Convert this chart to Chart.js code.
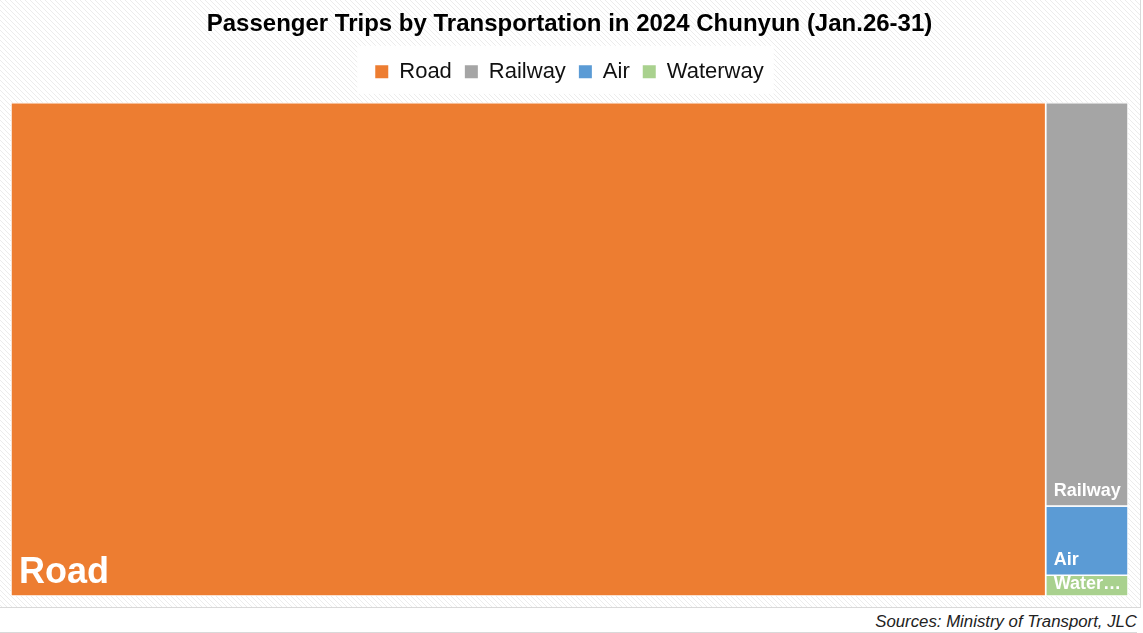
<!DOCTYPE html>
<html>
<head>
<meta charset="utf-8">
<script src="https://cdn.jsdelivr.net/npm/chart.js@4.4.1/dist/chart.umd.min.js"></script>
<style>
  body { margin: 0; background: #fff; font-family: "Liberation Sans", Arial, sans-serif; }
  #box { position: absolute; left: 0; top: 0; width: 1140px; height: 607px; border-right: 1px solid #d9d9d9; border-bottom: 1px solid #d9d9d9; }
  #src { position: absolute; left: 0; top: 608px; width: 1137px; height: 24px; border-bottom: 1px solid #d9d9d9;
         text-align: right; font-style: italic; font-size: 16.8px; line-height: 27px; color: #222; }
</style>
</head>
<body>
<div id="box"><canvas id="treeChart" width="1140" height="607"></canvas></div>
<div id="src">Sources: Ministry of Transport, JLC</div>
<script>
// Passenger trips, Jan.26-31 2024 (million)
const categories = ['Road', 'Railway', 'Air', 'Waterway'];
const trips = [1040.0, 67.7, 11.6, 3.5];
const colors = ['#ED7D31', '#A5A5A5', '#5B9BD5', '#A9D18E'];

const FONT = '"Liberation Sans", Arial, sans-serif';

// squarified treemap layout, in plot-area units
function squarify(values, x, y, w, h) {
    const total = values.reduce((a, b) => a + b, 0);
    const areas = values.map(v => v / total * w * h);
    const rects = [];
    let row = [];
    let i = 0;
    const worst = (r, side) => {
        const s = r.reduce((a, b) => a + b, 0);
        const mx = Math.max(...r), mn = Math.min(...r);
        return Math.max(side * side * mx / (s * s), s * s / (side * side * mn));
    };
    const layoutRow = r => {
        const s = r.reduce((a, b) => a + b, 0);
        if (w >= h) {
            const cw = s / h;
            let yy = y;
            r.forEach(a => { rects.push({ x: x, y: yy, w: cw, h: a / cw }); yy += a / cw; });
            x += cw; w -= cw;
        } else {
            const rh = s / w;
            let xx = x;
            r.forEach(a => { rects.push({ x: xx, y: y, w: a / rh, h: rh }); xx += a / rh; });
            y += rh; h -= rh;
        }
    };
    while (i < areas.length) {
        const side = Math.min(w, h);
        if (row.length === 0 || worst(row.concat(areas[i]), side) <= worst(row, side)) {
            row.push(areas[i]);
            i++;
        } else {
            layoutRow(row);
            row = [];
        }
    }
    if (row.length) layoutRow(row);
    return rects;
}

// hatched page background + white legend panel
const backdrop = {
    id: 'backdrop',
    beforeDraw(chart) {
        const ctx = chart.ctx;
        const tile = document.createElement('canvas');
        tile.width = 5; tile.height = 5;
        const t = tile.getContext('2d');
        t.fillStyle = '#ffffff';
        t.fillRect(0, 0, 5, 5);
        t.strokeStyle = '#ececec';
        t.lineWidth = 1;
        t.beginPath();
        t.moveTo(0, 0); t.lineTo(5, 5);
        t.moveTo(-1, 4); t.lineTo(1, 6);
        t.moveTo(4, -1); t.lineTo(6, 1);
        t.stroke();
        ctx.save();
        ctx.fillStyle = ctx.createPattern(tile, 'repeat');
        ctx.fillRect(0, 0, chart.width, chart.height);
        const boxes = chart.legend.legendHitBoxes;
        if (boxes && boxes.length) {
            const l = Math.min(...boxes.map(b => b.left)) - 18;
            const r = Math.max(...boxes.map(b => b.left + b.width)) + 10;
            const top = Math.min(...boxes.map(b => b.top)) - 15;
            const bot = Math.max(...boxes.map(b => b.top + b.height)) + 11;
            ctx.fillStyle = '#ffffff';
            ctx.fillRect(l, top, r - l, bot - top);
        }
        ctx.restore();
    }
};

// tile names, bottom-left of each tile, cut with an ellipsis when too wide
const tileLabels = {
    id: 'tileLabels',
    afterDatasetsDraw(chart) {
        const ctx = chart.ctx;
        ctx.save();
        chart.data.datasets.forEach((ds, i) => {
            const pts = chart.getDatasetMeta(i).data;
            if (!pts.length) return;
            const xs = pts.map(p => p.x), ys = pts.map(p => p.y);
            const left = Math.min(...xs), right = Math.max(...xs);
            const top = Math.min(...ys), bottom = Math.max(...ys);
            const size = i === 0 ? 36 : 18;
            ctx.font = 'bold ' + size + 'px ' + FONT;
            ctx.fillStyle = '#ffffff';
            ctx.textBaseline = 'alphabetic';
            let text = ds.label;
            const maxW = right - left - 12;
            if (ctx.measureText(text).width > maxW) {
                while (text.length > 1 && ctx.measureText(text + '\u2026').width > maxW) text = text.slice(0, -1);
                text += '\u2026';
            }
            const y = Math.max(bottom - (8 + size * 0.13), top + size * 0.72 + 1);
            ctx.fillText(text, left + 8, y);
        });
        ctx.restore();
    }
};

const chart = new Chart(document.getElementById('treeChart'), {
    type: 'line',
    data: { datasets: [] },
    options: {
        responsive: false,
        animation: false,
        events: [],
        layout: { padding: { left: 11, right: 12, bottom: 11, top: 0 } },
        scales: {
            x: {
                type: 'linear', position: 'top', min: 0, max: 1,
                ticks: { display: false }, grid: { display: false }, border: { display: false },
                // blank strip between the legend and the tiles
                afterFit: s => { s.height = 10; }
            },
            y: { type: 'linear', display: false, min: 0, max: 1, reverse: true }
        },
        plugins: {
            title: {
                display: true,
                text: 'Passenger Trips by Transportation in 2024 Chunyun (Jan.26-31)',
                color: '#000',
                font: { family: FONT, size: 24, weight: 'bold' },
                padding: { top: 10, bottom: 9 }
            },
            legend: {
                display: true,
                position: 'top',
                labels: {
                    color: '#111',
                    font: { family: FONT, size: 22 },
                    boxWidth: 13,
                    boxHeight: 13,
                    padding: 13,
                    generateLabels: c => c.data.datasets.map((ds, i) => ({
                        text: ds.label,
                        fillStyle: ds.backgroundColor,
                        strokeStyle: ds.backgroundColor,
                        lineWidth: 0,
                        hidden: false,
                        datasetIndex: i,
                        fontColor: '#111'
                    }))
                }
            },
            tooltip: { enabled: false }
        }
    },
    plugins: [backdrop, tileLabels]
});

// lay out tiles in the plot area's own units, then draw them as closed shapes
const area = chart.chartArea;
const W = area.right - area.left, H = area.bottom - area.top;
const rects = squarify(trips, 0, 0, W, H);
chart.options.scales.x.max = W;
chart.options.scales.y.max = H;
chart.data.datasets = rects.map((r, i) => ({
    label: categories[i],
    data: [
        { x: r.x, y: r.y }, { x: r.x + r.w, y: r.y },
        { x: r.x + r.w, y: r.y + r.h }, { x: r.x, y: r.y + r.h }, { x: r.x, y: r.y }
    ],
    backgroundColor: colors[i],
    borderColor: '#ffffff',
    borderWidth: 1.5,
    fill: 'shape',
    pointRadius: 0,
    tension: 0
}));
chart.update();
</script>
</body>
</html>
